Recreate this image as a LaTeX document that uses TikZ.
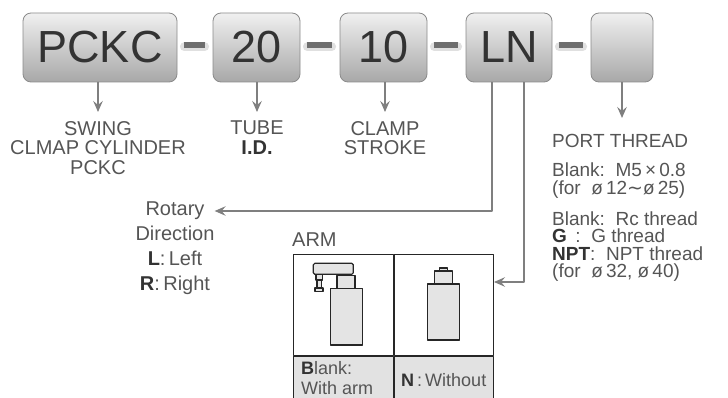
\documentclass[tikz,border=0pt]{standalone}
\usepackage{fontspec}
\setmainfont{Liberation Sans}
\newfontfamily\symfont{DejaVu Sans}
\usetikzlibrary{positioning,arrows.meta}
\definecolor{boxtop}{HTML}{F0F0F0}
\definecolor{boxbot}{HTML}{A8A8A8}
\definecolor{boxline}{HTML}{8A8A8A}
\definecolor{codetxt}{HTML}{333333}
\definecolor{lighttxt}{HTML}{555555}
\definecolor{darktxt}{HTML}{333333}
\definecolor{linegray}{HTML}{7F7F7F}
\definecolor{dashgray}{HTML}{6E6E6E}
\definecolor{cellgray}{HTML}{E2E2E2}
\definecolor{partgray}{HTML}{E4E4E4}
\newcommand{\hl}[1]{{\color{darktxt}\bfseries #1}}
\newcommand{\til}{{\symfont ∼}}

\begin{document}
\begin{tikzpicture}[x=1pt,y=-1pt,line join=round, line cap=round,
	>={Stealth[length=11pt,width=9.5pt,inset=4pt]}, text=lighttxt,
	font=\fontsize{20}{19.5}\selectfont]
	\tikzset{
		codebox/.style={draw=boxline, line width=0.8pt, rounded corners=8pt, top color=boxtop, bottom color=boxbot,
			minimum height=69pt, inner sep=0pt, text=codetxt, font=\fontsize{45}{45}\selectfont},
		dashbar/.style={draw=dashgray, line width=6pt, line cap=butt, shorten <=7pt, shorten >=8pt,
			preaction={draw=black!12, line width=9pt, transform canvas={yshift=-2pt}}},
		arr/.style={->, draw=linegray, line width=1.3pt},
		lbl/.style={align=center, inner sep=0pt},
		cell/.style={draw=black!85, line width=1pt, minimum width=99.5pt, inner sep=0pt},
		celltxt/.style={inner sep=0pt, align=left, font=\fontsize{18}{20}\selectfont},
		part/.style={draw=black!85, fill=partgray, line width=1.2pt}
	}
	\clip (0,0) rectangle (728,398);
	
	%% Khai bao cac o ma
	\node[codebox, minimum width=154pt] (pckc) at (100,47.5) {PCKC};
	\node[codebox, minimum width=87pt] (tube) at (256.5,47.5) {20};
	\node[codebox, minimum width=87pt] (stroke) at (383.5,47.5) {10};
	\node[codebox, minimum width=86pt] (arm) at (509,47.5) {LN};
	\node[codebox, minimum width=62pt] (port) at (622,47.5) {};
	
	\foreach \a/\b in {pckc/tube,tube/stroke,stroke/arm,arm/port}
	\draw[dashbar] ([yshift=2.5pt]\a.east)--([yshift=2.5pt]\b.west);
	
	%% Chu thich
	\node[lbl, anchor=north] (swing) at (98,121) {SWING\\CLMAP CYLINDER\\PCKC};
	\node[lbl, anchor=north] (tubetxt) at (257,121) {TUBE\\\hl{I.D.}};
	\node[lbl, anchor=north] (stroketxt) at (385,121) {CLAMP\\STROKE};
	\node[lbl, anchor=north west, align=left, font=\fontsize{19}{17.5}\selectfont] (porttxt) at (552,134)
	{PORT THREAD\\[12pt]
		Blank:\ \ M5\,×\,0.8\\
		(for \ ø\,12\til ø\,25)\\[12pt]
		Blank:\ \ Rc thread\\
		\hl{G} \,:\ \ G thread\\
		\hl{NPT}:\ \ NPT thread\\
		(for \ ø\,32, ø\,40)};
	\node[lbl, anchor=north, font=\fontsize{20}{25}\selectfont] (rotary) at (175,201.5)
	{Rotary\\Direction\\\hl{L}:\,Left\\\hl{R}:\,Right};
	
	\foreach \a/\b in {pckc/swing,tube/tubetxt,stroke/stroketxt}
	\draw[arr, shorten >=9pt] (\b.north |- \a.south)--(\b.north);
	\draw[arr, shorten >=16pt] (port.south)--(port.south |- porttxt.north);
	
	%% Bang ARM
	\node[cell, minimum height=101pt, anchor=north west] (witharm) at (293,254) {};
	\node[cell, minimum height=101pt, anchor=north west] (noarm) at (witharm.north east) {};
	\node[cell, fill=cellgray, minimum height=60pt, anchor=north west] (withcell) at (witharm.south west) {};
	\node[cell, fill=cellgray, minimum height=60pt, anchor=north west] (nocell) at (noarm.south west) {};
	\node[celltxt, anchor=north west] (withtxt) at ([xshift=8pt,yshift=-5pt]withcell.north west)
	{\hl{B}lank:\\With arm};
	\node[celltxt, anchor=north] (notxt) at ([yshift=-17pt]nocell.north) {\hl{N}\,:\,Without};
	\node[inner sep=0pt, anchor=south west, above right=7pt and -1pt of witharm.north west] (armlbl) {ARM};
	
	\draw[arr] ([xshift=-17pt]arm.south) |- ([yshift=-9.5pt]rotary.north east);
	\draw[arr] ([xshift=15pt]arm.south) |- ([yshift=-28pt]noarm.north east);
	
	%% Hinh xi lanh
	\draw[part] (330.7,288.3) rectangle (362.3,345) (337,275.7) rectangle (355,288.3)
	(343,273) rectangle (350,275.7);
	\draw[part] (317,280) rectangle (321.7,288) (315,288) rectangle (323,291.7)
	(316,274) rectangle (322.7,280);
	\draw[part, rounded corners=1.5pt] (313.3,263.3) rectangle (353.3,274.3);
	\draw[part] (427.7,284) rectangle (459.3,340) (434.3,271) rectangle (452.3,284)
	(439.3,268) rectangle (447.7,271);
\end{tikzpicture}
\end{document}
